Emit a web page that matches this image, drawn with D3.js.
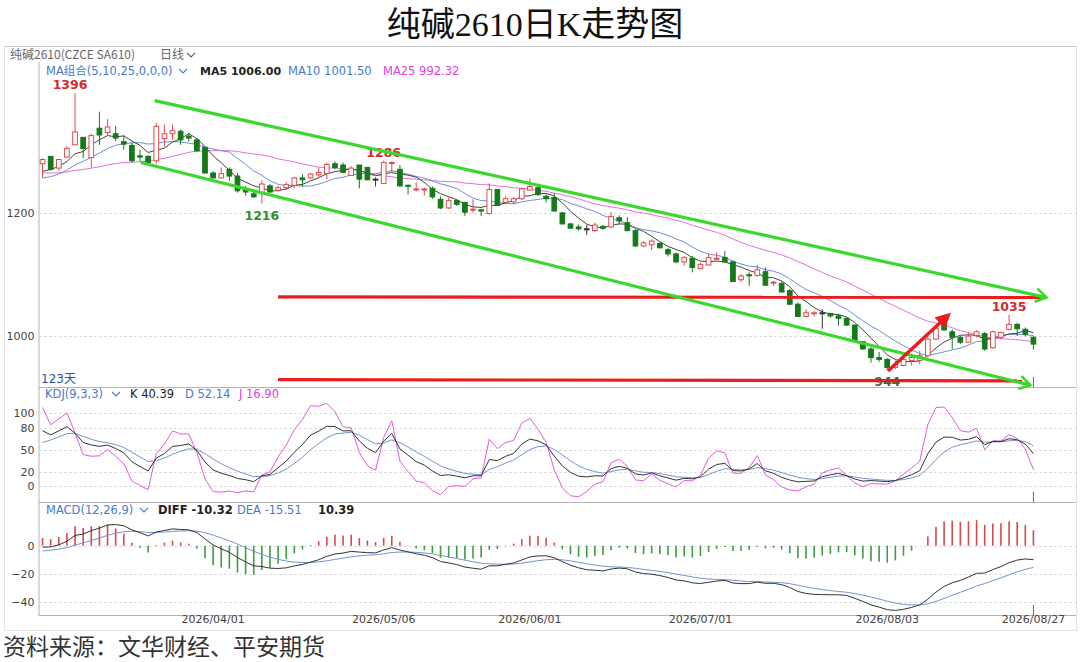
<!DOCTYPE html>
<html>
<head>
<meta charset="utf-8">
<script src="https://cdn.jsdelivr.net/npm/d3@7"></script>
<style>
  body { margin: 0; background: #fff; }
  svg { display: block; font-family: "DejaVu Sans", Verdana, sans-serif; }
</style>
</head>
<body>
<div id="chart"></div>
<script>
// 纯碱2610 daily K chart

const width = 1080;
const height = 662;

// trading calendar (weekdays minus exchange holidays)
const firstDay = "2026-03-03";
const lastDay = "2026-08-27";
const holidays = ["2026-04-06", "2026-05-01", "2026-05-04", "2026-05-05", "2026-06-19"];
const tickDates = ["2026/04/01", "2026/05/06", "2026/06/01", "2026/07/01", "2026/08/03", "2026/08/27"];

// OHLC
const opens = [1281,1293,1274,1292,1312,1324,1291,1339,1332,1330,1317,1311,1294,1293,1286,1322,1330,1334,1326,1320,
  1308,1266,1258,1272,1261,1240,1232,1233,1245,1238,1242,1246,1258,1258,1263,1265,1281,1279,1262,1279,
  1275,1256,1249,1282,1272,1246,1239,1239,1241,1223,1209,1221,1218,1206,1206,1200,1239,1218,1219,1224,
  1238,1242,1228,1226,1201,1183,1178,1175,1172,1179,1178,1193,1185,1172,1147,1149,1151,1141,1134,1121,
  1127,1110,1116,1126,1128,1121,1092,1100,1099,1105,1087,1086,1074,1052,1032,1037,1038,1037,1033,1029,
  1018,991,979,965,962,949,952,960,960,968,995,1021,1007,998,990,1001,1004,981,998,1011,
  1019,1011,998];
const highs = [1290,1294,1289,1310,1396,1325,1330,1366,1354,1343,1328,1315,1304,1295,1348,1345,1345,1337,1332,1323,
  1309,1269,1275,1275,1266,1245,1236,1254,1248,1245,1251,1260,1264,1266,1275,1283,1285,1283,1277,1279,
  1276,1259,1286,1285,1279,1247,1251,1242,1244,1228,1226,1223,1219,1223,1207,1249,1240,1228,1227,1242,
  1257,1244,1231,1233,1202,1184,1182,1181,1185,1181,1202,1197,1194,1174,1155,1158,1153,1144,1136,1131,
  1131,1120,1134,1137,1139,1123,1101,1104,1116,1112,1090,1089,1077,1055,1044,1041,1044,1038,1036,1030,
  1019,992,982,974,964,960,965,971,976,1000,1019,1025,1011,1000,1006,1010,1007,1009,1007,1035,
  1022,1014,1000];
const lows = [1258,1270,1270,1291,1311,1290,1275,1312,1328,1318,1304,1283,1285,1281,1281,1309,1320,1312,1317,1301,
  1265,1257,1257,1253,1234,1229,1226,1216,1233,1235,1238,1241,1244,1256,1258,1256,1272,1266,1261,1241,
  1254,1244,1248,1267,1243,1231,1236,1229,1224,1207,1207,1212,1196,1201,1196,1198,1212,1215,1215,1222,
  1237,1228,1218,1203,1182,1175,1172,1165,1170,1173,1176,1182,1171,1146,1145,1140,1143,1130,1119,1115,
  1104,1109,1115,1123,1120,1088,1088,1082,1097,1082,1082,1071,1051,1031,1031,1032,1012,1030,1017,1017,
  991,978,957,958,944,946,951,952,954,965,995,1009,979,987,990,998,976,980,995,1009,
  1000,1000,978];
const closes = [1288,1272,1288,1306,1333,1306,1327,1328,1341,1323,1313,1286,1292,1283,1342,1330,1335,1320,1323,1302,
  1266,1258,1265,1261,1237,1235,1227,1248,1235,1242,1247,1258,1255,1264,1267,1280,1275,1267,1274,1256,
  1255,1256,1283,1283,1245,1245,1240,1240,1227,1209,1221,1215,1202,1207,1204,1239,1213,1224,1224,1240,
  1244,1231,1224,1204,1183,1176,1175,1175,1181,1176,1195,1188,1172,1147,1152,1155,1144,1134,1121,1128,
  1112,1117,1128,1127,1121,1089,1098,1099,1108,1083,1088,1072,1052,1032,1038,1038,1038,1033,1029,1018,
  992,979,965,962,949,954,962,965,968,995,1013,1010,998,990,1000,1007,979,1007,1006,1019,
  1012,1003,987];

// closes before the window, estimated from where the MA lines start
const priorCloses = [1280,1276,1272,1270,1268,1274,1270,1266,1268,1272,1270,1268,1270,1275,1276,
  1252,1245,1240,1248,1250,1258,1262,1266,1270];

// indicator state on the day before the window
const kdjSeed = [66, 52];          // K, D
const macdSeed = [1267, 1270, -4.5]; // EMA12, EMA26, DEA

// labelled extremes: [index, price, colour]
const peakLabels = [[4, 1396, "#d42a2a"], [42, 1286, "#d42a2a"], [27, 1216, "#2f8f2f"],
  [104, 944, "#2f6f3f"], [119, 1035, "#d42a2a"]];
const lowLabels = [1216, 944];

// hand-drawn channel and arrows: [index0, price0, index1, price1]
const greenLines = [[13.8, 1384, 123.6, 1063], [12.1, 1283, 121.6, 920]];
const redLines = [[29, 1064, 123.6, 1063], [29, 929, 120.6, 927]];
const redArrow = [104.1, 943, 111.5, 1034];

const ma5Value = "1006.00", ma10Value = "1001.50", ma25Value = "992.32";
const kdjValues = ["40.39", "52.14", "16.90"];
const macdValues = ["-10.32", "-15.51", "10.39"];

/* calendar */
const parseDay = d3.timeParse("%Y-%m-%d");
const dayKey = d3.timeFormat("%Y-%m-%d");
const fmt = d3.timeFormat("%Y/%m/%d");
const holidaySet = new Set(holidays);
const dates = d3.timeDay.range(parseDay(firstDay), d3.timeDay.offset(parseDay(lastDay), 1))
  .filter(d => d.getDay() !== 0 && d.getDay() !== 6 && !holidaySet.has(dayKey(d)))
  .map(fmt);

const bars = dates.map((d, i) => ({date: d, i: i, o: opens[i], h: highs[i], l: lows[i], c: closes[i]}));

/* indicators */
const P = priorCloses.length;
const allCloses = priorCloses.concat(closes);
const allHighs = priorCloses.concat(highs);
const allLows = priorCloses.concat(lows);

function movingAvg(n) {
  return closes.map((c, i) => d3.mean(allCloses.slice(P + i - n + 1, P + i + 1)));
}
const ma5 = movingAvg(5), ma10 = movingAvg(10), ma25 = movingAvg(25);

let K = kdjSeed[0], D = kdjSeed[1];
const kdj = closes.map((c, i) => {
  const hh = d3.max(allHighs.slice(P + i - 8, P + i + 1));
  const ll = d3.min(allLows.slice(P + i - 8, P + i + 1));
  const rsv = hh === ll ? 50 : (c - ll) / (hh - ll) * 100;
  K = (2 * K + rsv) / 3;
  D = (2 * D + K) / 3;
  return {k: K, d: D, j: 3 * K - 2 * D};
});

let e12 = macdSeed[0], e26 = macdSeed[1], dea = macdSeed[2];
const macd = closes.map(c => {
  e12 = e12 * 11 / 13 + c * 2 / 13;
  e26 = e26 * 25 / 27 + c * 2 / 27;
  const diff = e12 - e26;
  dea = dea * 0.8 + diff * 0.2;
  return {diff: diff, dea: dea, hist: 2 * (diff - dea)};
});

/* layout */
const left = 38.5, right = 1076;
const mainTop = 62, mainBottom = 387;
const kdjTop = 387, kdjBottom = 502;
const macdTop = 502, macdBottom = 615;

const svg = d3.select("#chart").append("svg")
  .attr("width", width).attr("height", height);

const x = d3.scaleBand()
  .domain(dates)
  .range([left, 1037.5])
  .paddingInner(0.3)
  .paddingOuter(0.15);
const bw = x.bandwidth();
const cx = i => x(dates[0]) + bw / 2 + i * x.step();

const y = d3.scaleLinear().domain([917, 1447]).range([mainBottom, mainTop]);
const yK = d3.scaleLinear().domain([-21.5, 136]).range([kdjBottom, kdjTop]);
const yM = d3.scaleLinear().domain([-49.4, 31.1]).range([macdBottom, macdTop]);

// title
svg.append("text")
  .attr("x", 535).attr("y", 36)
  .attr("text-anchor", "middle")
  .attr("font-family", "'Liberation Serif','Noto Sans CJK SC',serif")
  .attr("font-size", 34)
  .attr("fill", "#111")
  .text("纯碱2610日K走势图");

// frame and panel dividers
svg.append("rect")
  .attr("x", 4.5).attr("y", 46.5).attr("width", 1072).attr("height", 584)
  .attr("fill", "none").attr("stroke", "#e2e2e2");
svg.append("line").attr("x1", 4.5).attr("x2", 1076.5).attr("y1", 46.5).attr("y2", 46.5)
  .attr("stroke", "#c8c8c8");
[kdjTop, macdTop, macdBottom].forEach(v => {
  svg.append("line").attr("x1", left).attr("x2", right).attr("y1", v + 0.5).attr("y2", v + 0.5)
    .attr("stroke", "#b4b4b4");
});
svg.append("line").attr("x1", left + 0.5).attr("x2", left + 0.5)
  .attr("y1", mainTop).attr("y2", macdBottom).attr("stroke", "#b4b4b4");

// header row
svg.append("text").attr("x", 10).attr("y", 59)
  .attr("font-family", "'Noto Sans CJK SC',sans-serif").attr("font-size", 12).attr("fill", "#666")
  .text("纯碱2610(CZCE  SA610)");
svg.append("text").attr("x", 160).attr("y", 59)
  .attr("font-family", "'Noto Sans CJK SC',sans-serif").attr("font-size", 12).attr("fill", "#666")
  .text("日线");
function chevron(px, py, color) {
  svg.append("path").attr("d", `M${px},${py} l4,4 l4,-4`)
    .attr("fill", "none").attr("stroke", color).attr("stroke-width", 1.1);
}
chevron(187, 53, "#666");

// gridlines + axis labels
function grid(scale, values, fmtLabel) {
  values.forEach(v => {
    svg.append("line").attr("x1", left + 1).attr("x2", right)
      .attr("y1", Math.round(scale(v)) + 0.5).attr("y2", Math.round(scale(v)) + 0.5)
      .attr("stroke", "#cfcfcf").attr("stroke-dasharray", "2,3");
  });
  const g = svg.append("g")
    .attr("transform", `translate(${left - 1},0)`)
    .call(d3.axisLeft(scale).tickValues(values).tickSize(0).tickPadding(3).tickFormat(fmtLabel))
    .attr("font-size", 11)
    .attr("font-family", "'DejaVu Sans',Verdana,sans-serif");
  g.select(".domain").remove();
  g.selectAll("text").attr("fill", "#444");
}
grid(y, [1000, 1200], d3.format("d"));
grid(yK, [0, 20, 50, 80, 100], d3.format("d"));
grid(yM, [-40, -20, 0], d3.format("d"));

// date axis
const xAxis = svg.append("g")
  .attr("transform", `translate(0,${macdBottom})`)
  .call(d3.axisBottom(x).tickValues(tickDates).tickSize(0).tickPadding(0))
  .attr("font-size", 11)
  .attr("font-family", "'DejaVu Sans',Verdana,sans-serif");
xAxis.select(".domain").remove();
xAxis.selectAll("text").attr("fill", "#444");

// last day markers
[mainBottom, kdjBottom, macdBottom].forEach(b => {
  svg.append("line").attr("x1", cx(bars.length - 1)).attr("x2", cx(bars.length - 1))
    .attr("y1", b - 10).attr("y2", b).attr("stroke", "#666");
});

/* MA lines */
const maLine = arr => d3.line().x((d, i) => cx(i)).y(d => y(d))(arr);
[[ma25, "#e46ee0"], [ma10, "#6d8fd2"], [ma5, "#444"]].forEach(([arr, col]) => {
  svg.append("path").attr("d", maLine(arr)).attr("fill", "none")
    .attr("stroke", col).attr("stroke-width", 1);
});

/* candles */
const upColor = "#e04a4e", downColor = "#15791a", flatColor = "#333";
const candleColor = d => d.c > d.o ? upColor : (d.c < d.o ? downColor : flatColor);
const candles = svg.selectAll(".candle").data(bars).enter().append("g").attr("class", "candle");
candles.append("line")
  .attr("x1", d => cx(d.i)).attr("x2", d => cx(d.i))
  .attr("y1", d => y(d.h)).attr("y2", d => y(d.l))
  .attr("stroke", candleColor).attr("stroke-width", 1);
candles.append("rect")
  .attr("x", d => x(d.date) + 0.5)
  .attr("y", d => y(Math.max(d.o, d.c)))
  .attr("width", bw - 1)
  .attr("height", d => Math.max(1, y(Math.min(d.o, d.c)) - y(Math.max(d.o, d.c))))
  .attr("fill", d => d.c > d.o ? "#fff" : candleColor(d))
  .attr("stroke", candleColor).attr("stroke-width", 1);

/* legend of main panel */
svg.append("text").attr("x", 46).attr("y", 75).attr("font-size", 11.5).attr("fill", "#4a78d0")
  .attr("font-family", "'DejaVu Sans','Noto Sans CJK SC',sans-serif")
  .text("MA组合(5,10,25,0,0,0)");
chevron(179, 69, "#4a78d0");
svg.append("text").attr("x", 200).attr("y", 75).attr("font-size", 11).attr("font-weight", "bold")
  .attr("fill", "#222").text("MA5 " + ma5Value);
svg.append("text").attr("x", 288).attr("y", 75).attr("font-size", 11.5).attr("fill", "#4a78d0")
  .text("MA10 " + ma10Value);
svg.append("text").attr("x", 383).attr("y", 75).attr("font-size", 11.5).attr("fill", "#e040e0")
  .text("MA25 " + ma25Value);

svg.append("text").attr("x", 41).attr("y", 383).attr("font-size", 12).attr("fill", "#2a4fa8")
  .attr("font-family", "'DejaVu Sans','Noto Sans CJK SC',sans-serif")
  .text("123天");

/* extreme labels */
peakLabels.forEach(([i, p, col]) => {
  const isLow = lowLabels.includes(p);
  svg.append("text")
    .attr("x", cx(i) + (i === 4 ? -5 : 0))
    .attr("y", isLow ? y(p) + 16 : y(p) - 4)
    .attr("text-anchor", "middle")
    .attr("font-size", 12.5).attr("font-weight", "bold")
    .attr("fill", col).text(p);
});

/* KDJ */
const kdjLine = key => d3.line().x((d, i) => cx(i)).y(d => yK(d[key]))(kdj);
[["d", "#7393d4"], ["j", "#e35ad8"], ["k", "#333"]].forEach(([key, col]) => {
  svg.append("path").attr("d", kdjLine(key)).attr("fill", "none")
    .attr("stroke", col).attr("stroke-width", 1);
});
svg.append("text").attr("x", 45).attr("y", 398).attr("font-size", 11.5).attr("fill", "#4a78d0")
  .text("KDJ(9,3,3)");
chevron(112, 392, "#4a78d0");
svg.append("text").attr("x", 130).attr("y", 398).attr("font-size", 11.5).attr("fill", "#222")
  .text("K " + kdjValues[0]);
svg.append("text").attr("x", 185).attr("y", 398).attr("font-size", 11.5).attr("fill", "#4a78d0")
  .text("D " + kdjValues[1]);
svg.append("text").attr("x", 239).attr("y", 398).attr("font-size", 11.5).attr("fill", "#e040e0")
  .text("J " + kdjValues[2]);

/* MACD */
svg.selectAll(".hist").data(macd).enter().append("line")
  .attr("class", "hist")
  .attr("x1", (d, i) => cx(i)).attr("x2", (d, i) => cx(i))
  .attr("y1", yM(0)).attr("y2", d => yM(d.hist))
  .attr("stroke", d => d.hist >= 0 ? "#d6494c" : "#3f9a45")
  .attr("stroke-width", 1.6);
const macdLine = key => d3.line().x((d, i) => cx(i)).y(d => yM(d[key]))(macd);
svg.append("path").attr("d", macdLine("dea")).attr("fill", "none").attr("stroke", "#7393d4").attr("stroke-width", 1);
svg.append("path").attr("d", macdLine("diff")).attr("fill", "none").attr("stroke", "#333").attr("stroke-width", 1);

svg.append("text").attr("x", 46).attr("y", 514).attr("font-size", 11.5).attr("fill", "#4a78d0")
  .text("MACD(12,26,9)");
chevron(140, 508, "#4a78d0");
svg.append("text").attr("x", 158).attr("y", 514).attr("font-size", 11.5).attr("font-weight", "bold")
  .attr("fill", "#222").text("DIFF " + macdValues[0]);
svg.append("text").attr("x", 237).attr("y", 514).attr("font-size", 11.5).attr("fill", "#4a78d0")
  .text("DEA " + macdValues[1]);
svg.append("text").attr("x", 318).attr("y", 514).attr("font-size", 11.5).attr("font-weight", "bold")
  .attr("fill", "#222").text(macdValues[2]);

/* hand-drawn annotations */
const defs = svg.append("defs");
defs.append("marker").attr("id", "greenHead")
  .attr("viewBox", "0 0 12 12").attr("refX", 10).attr("refY", 6)
  .attr("markerWidth", 5).attr("markerHeight", 5).attr("orient", "auto")
  .attr("markerUnits", "strokeWidth")
  .append("path").attr("d", "M2,1 L10,6 L2,11").attr("fill", "none")
  .attr("stroke", "#3ad82a").attr("stroke-width", 2);
defs.append("marker").attr("id", "redHead")
  .attr("viewBox", "0 0 12 12").attr("refX", 9).attr("refY", 6)
  .attr("markerWidth", 4.5).attr("markerHeight", 4.5).attr("orient", "auto")
  .attr("markerUnits", "strokeWidth")
  .append("path").attr("d", "M0,0 L12,6 L0,12 Z").attr("fill", "#ec1c1c");

redLines.forEach(([i0, p0, i1, p1]) => {
  svg.append("line")
    .attr("x1", cx(i0)).attr("y1", y(p0)).attr("x2", cx(i1)).attr("y2", y(p1))
    .attr("stroke", "#ec1c1c").attr("stroke-width", 3.2);
});
greenLines.forEach(([i0, p0, i1, p1]) => {
  svg.append("line")
    .attr("x1", cx(i0)).attr("y1", y(p0)).attr("x2", cx(i1)).attr("y2", y(p1))
    .attr("stroke", "#3ad82a").attr("stroke-width", 3.2)
    .attr("marker-end", "url(#greenHead)");
});
svg.append("line")
  .attr("x1", cx(redArrow[0])).attr("y1", y(redArrow[1]))
  .attr("x2", cx(redArrow[2])).attr("y2", y(redArrow[3]))
  .attr("stroke", "#ec1c1c").attr("stroke-width", 3.4)
  .attr("marker-end", "url(#redHead)");

// source line
svg.append("text").attr("x", 3).attr("y", 655)
  .attr("font-family", "'Noto Sans CJK SC',sans-serif")
  .attr("font-size", 23).attr("fill", "#333")
  .text("资料来源：文华财经、平安期货");
</script>
</body>
</html>
